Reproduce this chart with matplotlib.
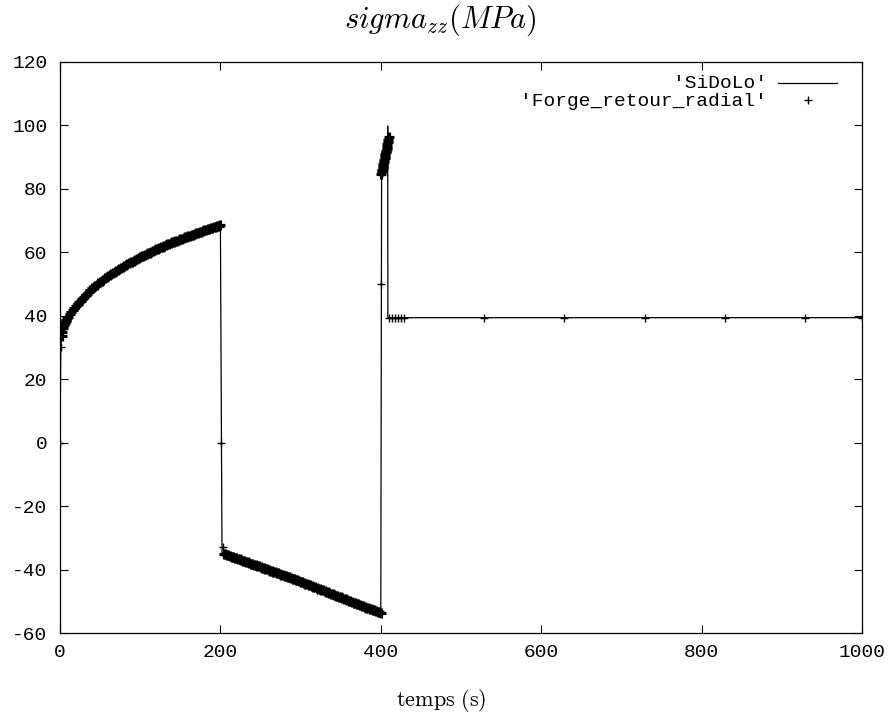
import matplotlib
matplotlib.use("Agg")
import matplotlib.pyplot as plt

plt.rcParams['mathtext.fontset'] = 'cm'

# SiDoLo curve (time s, sigma_zz MPa)
sidolo_t = [0, 1, 2, 3, 5, 8, 10, 15, 20, 30, 40, 50, 60, 70, 80, 90, 100, 110, 120,
            130, 140, 150, 160, 170, 180, 190, 200, 202, 205, 250, 300, 350, 400,
            401, 403, 405, 407, 408.5, 408.6, 408.8, 1000]
sidolo_v = [0, 30.3, 33.5, 35.0, 37.0, 38.8, 39.6, 41.4, 43.0, 46.0, 48.6, 50.6, 52.6, 54.2,
            55.7, 57.1, 58.4, 59.7, 60.9, 62.0, 63.1, 64.1, 65.1, 66.0, 66.9, 67.8, 68.6,
            -34.6, -35.0, -39.1, -43.8, -48.7, -53.7,
            85.0, 87.5, 90.0, 92.6, 95.8, 99.8, 39.4, 39.4]

# Forge_retour_radial points: loading 0-200 s
forge1_t = [0, 1, 2, 3, 4, 5, 6, 7, 8, 9, 10, 12, 14, 16, 18, 20, 22, 24, 26, 28, 30,
            32, 34, 36, 38, 40, 42, 44, 46, 48, 50, 52, 54, 56, 58, 60, 62, 64, 66, 68, 70,
            72, 74, 76, 78, 80, 82, 84, 86, 88, 90, 92, 94, 96, 98, 100, 102, 104, 106,
            108, 110, 112, 114, 116, 118, 120, 122, 124, 126, 128, 130, 132, 134, 136,
            138, 140, 142, 144, 146, 148, 150, 152, 154, 156, 158, 160, 162, 164, 166,
            168, 170, 172, 174, 176, 178, 180, 182, 184, 186, 188, 190, 192, 194, 196,
            198, 200]
forge1_v = [0, 30.3, 33.5, 35.0, 36.0, 37.0, 37.7, 38.3, 38.8, 39.2, 39.6, 40.5, 41.1,
            41.7, 42.4, 43.0, 43.6, 44.2, 44.8, 45.4, 46.0, 46.5, 47.0, 47.6, 48.1, 48.6,
            49.0, 49.4, 49.8, 50.2, 50.6, 51.0, 51.4, 51.8, 52.2, 52.6, 52.9, 53.2, 53.6,
            53.9, 54.2, 54.5, 54.8, 55.1, 55.4, 55.7, 56.0, 56.3, 56.5, 56.8, 57.1, 57.4,
            57.6, 57.9, 58.1, 58.4, 58.7, 58.9, 59.2, 59.4, 59.7, 59.9, 60.2, 60.4, 60.7,
            60.9, 61.1, 61.4, 61.6, 61.8, 62.0, 62.2, 62.5, 62.7, 62.9, 63.1, 63.3, 63.5,
            63.7, 63.9, 64.1, 64.3, 64.5, 64.7, 64.9, 65.1, 65.3, 65.5, 65.6, 65.8, 66.0,
            66.2, 66.4, 66.5, 66.7, 66.9, 67.1, 67.3, 67.4, 67.6, 67.8, 68.0, 68.1, 68.3,
            68.4, 68.6]

# unloading 200-400 s
forge2_t = [201, 203, 204, 206, 208, 210, 212, 214, 216, 218, 220, 222, 224, 226, 228,
            230, 232, 234, 236, 238, 240, 242, 244, 246, 248, 250, 252, 254, 256, 258,
            260, 262, 264, 266, 268, 270, 272, 274, 276, 278, 280, 282, 284, 286, 288,
            290, 292, 294, 296, 298, 300, 302, 304, 306, 308, 310, 312, 314, 316, 318,
            320, 322, 324, 326, 328, 330, 332, 334, 336, 338, 340, 342, 344, 346, 348,
            350, 352, 354, 356, 358, 360, 362, 364, 366, 368, 370, 372, 374, 376, 378,
            380, 382, 384, 386, 388, 390, 392, 394, 396, 398, 400]
forge2_v = [0.0, -33.0, -35.0, -35.2, -35.4, -35.5, -35.7, -35.9, -36.1, -36.3, -36.5,
            -36.7, -36.8, -37.0, -37.2, -37.4, -37.6, -37.7, -37.9, -38.1, -38.3, -38.5,
            -38.7, -38.8, -39.0, -39.2, -39.4, -39.6, -39.7, -39.9, -40.1, -40.3, -40.5,
            -40.7, -40.8, -41.0, -41.2, -41.4, -41.6, -41.8, -42.0, -42.1, -42.3, -42.5,
            -42.7, -42.9, -43.1, -43.3, -43.4, -43.6, -43.8, -44.0, -44.2, -44.4, -44.6,
            -44.8, -45.0, -45.2, -45.4, -45.6, -45.8, -46.0, -46.2, -46.4, -46.6, -46.8,
            -47.0, -47.2, -47.4, -47.6, -47.8, -48.0, -48.2, -48.4, -48.6, -48.8, -49.0,
            -49.2, -49.4, -49.6, -49.8, -50.0, -50.2, -50.4, -50.6, -50.8, -51.0, -51.2,
            -51.4, -51.6, -51.8, -52.0, -52.1, -52.3, -52.5, -52.7, -52.9, -53.1, -53.3,
            -53.5, -53.7]

# reloading 400-410 s and hold
forge3_t = [400.2, 400.8, 401.3, 401.8, 402.3, 402.8, 403.3, 403.8, 404.3, 404.8, 405.3,
            405.8, 406.3, 406.8, 407.3, 407.8, 408.3, 408.8, 409.3, 409.8,
            410.6, 414.3, 418, 421.7, 425.4, 429, 529, 629, 729, 829, 929, 1000]
forge3_v = [50.0, 84.8, 85.5, 86.1, 86.7, 87.3, 87.9, 88.5, 89.1, 89.7, 90.3, 90.9, 91.5,
            92.1, 92.7, 93.3, 94.0, 94.7, 95.4, 96.2,
            39.4, 39.4, 39.4, 39.4, 39.4, 39.4, 39.4, 39.4, 39.4, 39.4, 39.4, 39.4]

x_ticks = [0, 200, 400, 600, 800, 1000]
y_ticks = [-60, -40, -20, 0, 20, 40, 60, 80, 100, 120]
legend_labels = ["'SiDoLo'", "'Forge_retour_radial'"]

fig = plt.figure(figsize=(8.88, 7.22), dpi=100)
ax = fig.add_axes([60 / 888, 1 - 633 / 722, (862 - 60) / 888, (633 - 62) / 722])

ax.plot(sidolo_t, sidolo_v, color='black', lw=0.9)
dense = dict(linestyle='none', marker='+', color='black', markersize=6.5, mew=2.3)
single = dict(linestyle='none', marker='+', color='black', markersize=6, mew=1.0)
ax.plot(forge1_t[2:], forge1_v[2:], **dense)
ax.plot(forge1_t[:2], forge1_v[:2], **single)
ax.plot(forge2_t[2:], forge2_v[2:], **dense)
ax.plot(forge2_t[:2], forge2_v[:2], **single)
ax.plot(forge3_t[1:20], forge3_v[1:20], **dense)
ax.plot(forge3_t[:1], forge3_v[:1], **single)
ax.plot(forge3_t[20:], forge3_v[20:], **single)

ax.set_xlim(0, 1000)
ax.set_ylim(-60, 120)
ax.set_xticks(x_ticks)
ax.set_yticks(y_ticks)
ax.set_xticklabels([str(v) for v in x_ticks])
ax.set_yticklabels([str(v) for v in y_ticks])
ax.tick_params(direction='in', length=6, width=0.8, top=True, right=True,
               labelsize=14, colors='black')
ax.tick_params(axis='x', pad=8)
ax.tick_params(axis='y', pad=9)
for lab in ax.get_xticklabels() + ax.get_yticklabels():
    lab.set_family('Liberation Mono')
for s in ax.spines.values():
    s.set_linewidth(0.9)

# gnuplot-style key
ax.text(707 / 802, 1 - (84 - 62) / 571, legend_labels[0], transform=ax.transAxes,
        ha='right', va='center', family='Liberation Mono', fontsize=14)
ax.text(707 / 802, 1 - (101 - 62) / 571, legend_labels[1], transform=ax.transAxes,
        ha='right', va='center', family='Liberation Mono', fontsize=14)
ax.plot([718 / 802, 777 / 802], [1 - (83 - 62) / 571] * 2, transform=ax.transAxes,
        color='black', lw=0.9)
ax.plot([748 / 802], [1 - (100 - 62) / 571], transform=ax.transAxes,
        marker='+', color='black', markersize=6, mew=1.0)

fig.text(440 / 888, 1 - 20 / 722, r'$sigma_{zz}(MPa)$', ha='center', va='center',
         fontsize=22)
fig.text(441 / 888, 1 - 700 / 722, r'$\mathrm{temps\ (s)}$', ha='center', va='center',
         fontsize=16)

fig.savefig('out.png', dpi=100)
